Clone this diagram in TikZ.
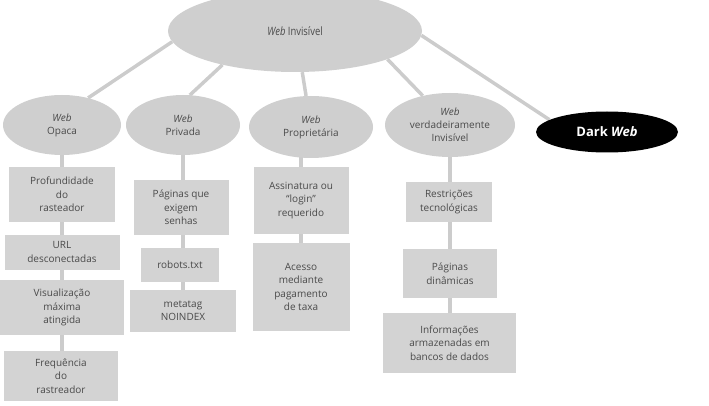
\documentclass[tikz,border=0pt]{standalone}
\usepackage{fontspec}
\setmainfont{Open Sans}
\usetikzlibrary{shapes.geometric,backgrounds}
\definecolor{ellgray}{HTML}{CFCFCF}
\definecolor{boxgray}{HTML}{D3D3D3}
\definecolor{linegray}{HTML}{CCCCCC}
\definecolor{txtgray}{HTML}{4A4A4A}
\begin{document}
\begin{tikzpicture}[x=1pt,y=-1pt,
  ell/.style={ellipse, fill=ellgray, text=txtgray, align=center, inner sep=0pt,
    font=\fontsize{10}{13}\selectfont},
  boxnode/.style={rectangle, fill=boxgray, text=txtgray, align=center, inner sep=0pt,
    font=\fontsize{10}{13.5}\selectfont},
  conn/.style={draw=linegray, line width=3.5pt}
]
\clip (0,0) rectangle (709,406);
\useasboundingbox (0,0) rectangle (709,406);

% top level
\node[ell, minimum width=254, minimum height=82] (main) at (295,31)
  {\scalebox{0.82}[1]{\fontsize{11.5}{13}\selectfont\textit{Web} Invisível}};

% second level
\node[ell, minimum width=118, minimum height=60] (opaca) at (62,125) {\textit{Web}\\Opaca};
\node[ell, minimum width=114, minimum height=60] (privada) at (183,125) {\textit{Web}\\Privada};
\node[ell, minimum width=124, minimum height=62] (prop) at (311,127) {\textit{Web}\\Proprietária};
\node[ell, minimum width=130, minimum height=64] (verd) at (450,125) {\textit{Web}\\verdadeiramente\\Invisível};
\node[ellipse, fill=black, text=white, inner sep=0pt, minimum width=142, minimum height=41,
  font=\fontsize{13}{15}\selectfont\bfseries] (dark) at (607,132) {Dark \textit{Web}};

% column 1
\node[boxnode, minimum width=106, minimum height=55] (b11) at (62,194.5) {Profundidade\\do\\rasteador};
\node[boxnode, minimum width=115, minimum height=35] (b12) at (62,252) {URL\\desconectadas};
\node[boxnode, minimum width=124, minimum height=55] (b13) at (62,307.5) {Visualização\\máxima\\atingida};
\node[boxnode, minimum width=114, minimum height=50] (b14) at (61,376) {Frequência\\do\\rastreador};

% column 2
\node[boxnode, minimum width=95, minimum height=55] (b21) at (181,207.5) {Páginas que\\exigem\\senhas};
\node[boxnode, minimum width=78, minimum height=34] (b22) at (180,265) {robots.txt};
\node[boxnode, minimum width=106, minimum height=42] (b23) at (183,311) {metatag\\NOINDEX};

% column 3
\node[boxnode, minimum width=95, minimum height=67] (b31) at (301,200.5) {Assinatura ou\\“login”\\requerido};
\node[boxnode, minimum width=97, minimum height=88] (b32) at (301,287) {Acesso\\mediante\\pagamento\\de taxa};

% column 4
\node[boxnode, minimum width=86, minimum height=40] (b41) at (449,202) {Restrições\\tecnológicas};
\node[boxnode, minimum width=94, minimum height=49] (b42) at (450,273.5) {Páginas\\dinâmicas};
\node[boxnode, minimum width=133, minimum height=60] (b43) at (449.5,343) {Informações\\armazenadas em\\bancos de dados};

\begin{pgfonlayer}{background}
  \draw[conn] (main.185.5) -- (opaca.46);
  \draw[conn] (main.205) -- (privada.77);
  \draw[conn] (main.280) -- (prop.99);
  \draw[conn] (main.343) -- (verd.133);
  \draw[conn] (main.358) -- (dark.168);
  \draw[conn] (opaca.center) -- (b14.center -| opaca.center);
  \draw[conn] (privada.center) -- (b23.center);
  \draw[conn] (b32.center |- prop.center) -- (b32.center);
  \draw[conn] (verd.center) -- (b43.center -| verd.center);
\end{pgfonlayer}
\end{tikzpicture}
\end{document}
